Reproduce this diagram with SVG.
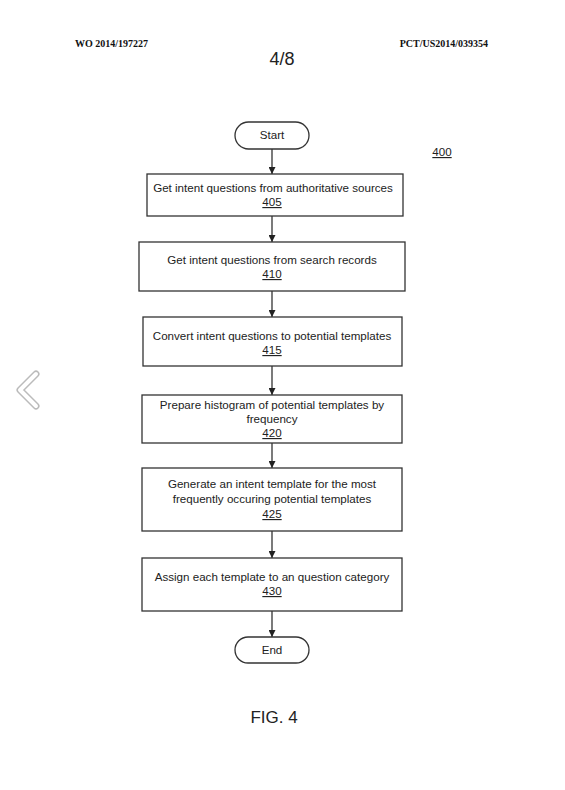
<svg xmlns="http://www.w3.org/2000/svg" width="565" height="790" viewBox="0 0 565 790">
<defs>
<style>
.box{fill:#fff;stroke:#333;stroke-width:1.3}
.t{font-family:"Liberation Sans",Arial,sans-serif;font-size:11.6px;fill:#222;text-anchor:middle}
.n{text-decoration:underline}
.hd{font-family:"Liberation Serif","Times New Roman",serif;font-size:10px;font-weight:bold;fill:#111}
.c{stroke:#333;stroke-width:1.3;fill:none;marker-end:url(#ah)}
</style>
<marker id="ah" viewBox="0 0 10 10" refX="10" refY="5" markerWidth="7" markerHeight="7" markerUnits="userSpaceOnUse" orient="auto">
<path d="M0,0 L10,5 L0,10 z" fill="#222"/>
</marker>
</defs>
<rect width="565" height="790" fill="#fff"/>
<text class="hd" x="75" y="47">WO 2014/197227</text>
<text class="hd" x="488" y="47" text-anchor="end">PCT/US2014/039354</text>
<text x="282" y="65" font-family="Liberation Sans,Arial,sans-serif" font-size="18" text-anchor="middle" fill="#222">4/8</text>
<text class="t n" x="442" y="156">400</text>
<path d="M36,374 L20,390 L36,406" fill="none" stroke="#bbb" stroke-width="7" stroke-linecap="round" stroke-linejoin="round"/>
<path d="M36,374 L20,390 L36,406" fill="none" stroke="#fff" stroke-width="4" stroke-linecap="round" stroke-linejoin="round"/>
<g id="connectors">
<line class="c" x1="272" y1="149" x2="272" y2="174"/>
<line class="c" x1="272" y1="216" x2="272" y2="242"/>
<line class="c" x1="272" y1="291" x2="272" y2="317"/>
<line class="c" x1="272" y1="366" x2="272" y2="395"/>
<line class="c" x1="272" y1="443" x2="272" y2="468"/>
<line class="c" x1="272" y1="531" x2="272" y2="558"/>
<line class="c" x1="272" y1="611" x2="272" y2="637"/>
</g>
<g id="start">
<rect class="box" x="235" y="122" width="74" height="27" rx="13.5"/>
<text class="t" x="272" y="139">Start</text>
</g>
<g id="n405">
<rect class="box" x="147" y="174" width="256" height="42"/>
<text class="t" x="273" y="192">Get intent questions from authoritative sources</text>
<text class="t n" x="272" y="206">405</text>
</g>
<g id="n410">
<rect class="box" x="139" y="242" width="266" height="49"/>
<text class="t" x="272" y="264">Get intent questions from search records</text>
<text class="t n" x="272" y="278">410</text>
</g>
<g id="n415">
<rect class="box" x="143" y="317" width="259" height="49"/>
<text class="t" x="272" y="340">Convert intent questions to potential templates</text>
<text class="t n" x="272" y="354">415</text>
</g>
<g id="n420">
<rect class="box" x="142" y="395" width="260" height="48"/>
<text class="t" x="272" y="409">Prepare histogram of potential templates by</text>
<text class="t" x="272" y="423">frequency</text>
<text class="t n" x="272" y="437">420</text>
</g>
<g id="n425">
<rect class="box" x="142" y="468" width="260" height="63"/>
<text class="t" x="272" y="488">Generate an intent template for  the most</text>
<text class="t" x="272" y="503">frequently occuring potential templates</text>
<text class="t n" x="272" y="518">425</text>
</g>
<g id="n430">
<rect class="box" x="142" y="558" width="260" height="53"/>
<text class="t" x="272" y="581">Assign each template to an question category</text>
<text class="t n" x="272" y="595">430</text>
</g>
<g id="end">
<rect class="box" x="235" y="637" width="74" height="26" rx="13"/>
<text class="t" x="272" y="654">End</text>
</g>
<text x="274" y="723" font-family="Liberation Sans,Arial,sans-serif" font-size="17" text-anchor="middle" fill="#222">FIG. 4</text>
</svg>
